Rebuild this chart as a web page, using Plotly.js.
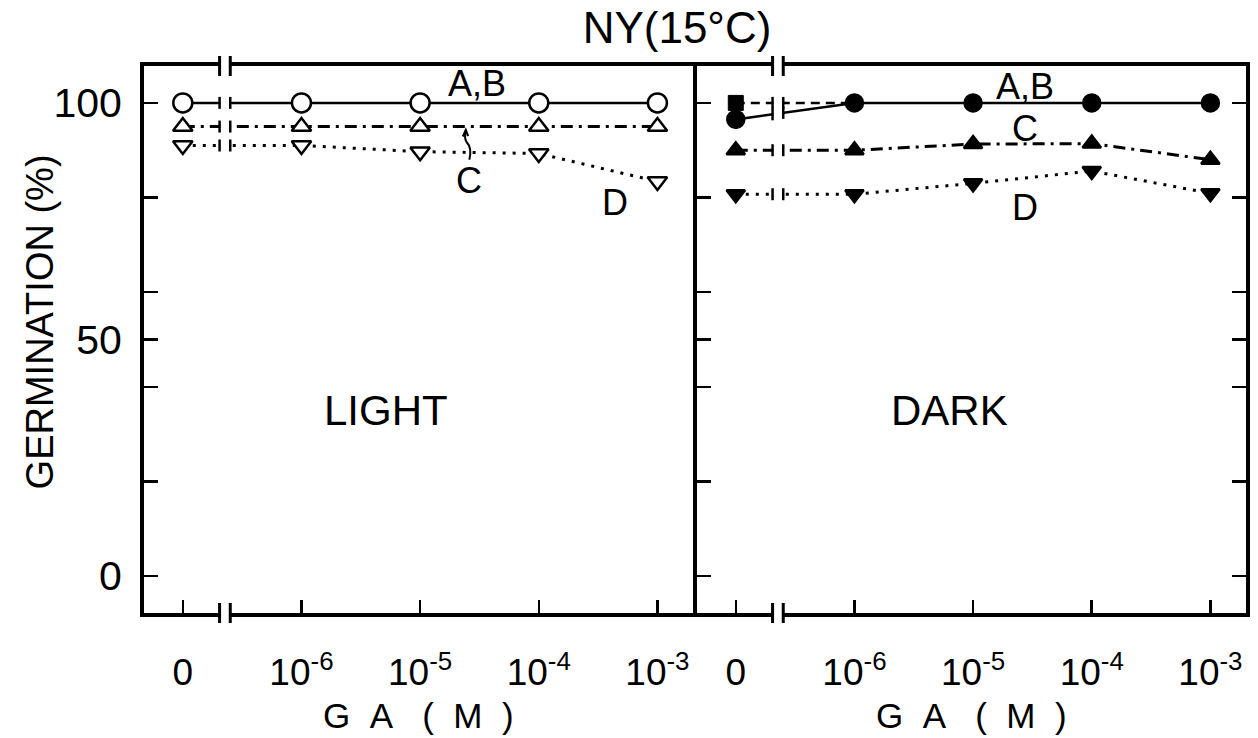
<!DOCTYPE html>
<html><head><meta charset="utf-8">
<script src="https://cdn.plot.ly/plotly-3.0.1.min.js"></script>
<style>html,body{margin:0;padding:0;background:#fff;} #chart{width:1258px;height:738px;}</style>
</head><body><div id="chart"></div>
<script>
// ---- data ----
const concentrations = ['0', '1e-6', '1e-5', '1e-4', '1e-3'];
const tickLabels = ['0', '10<sup>-6</sup>', '10<sup>-5</sup>', '10<sup>-4</sup>', '10<sup>-3</sup>'];
const yLabelVals = [0, 50, 100];
const yLabelText = ['0', '50', '100'];
const yMinorVals = [20, 40, 60, 80];
// LIGHT (open symbols)
const lightAB = [100, 100, 100, 100, 100];
const lightC = [95, 95, 95, 95, 95];
const lightD = [91, 91, 89.7, 89.3, 83.4];
// DARK (closed symbols)
const darkA = [96.5, 100, 100, 100, 100];
const darkB = [100, 100];
const darkC = [90, 90, 91.3, 91.4, 88];
const darkD = [80.7, 80.7, 83, 85.6, 80.9];

const xs = concentrations.map((c, i) => i);
const FONT = 'Liberation Sans, Arial, sans-serif';
const breakX = [0.31, 0.40];

function tr(y, xa, ya, symbol, fill, size, dash, lw, mode) {
  return {
    x: xs.slice(0, y.length), y: y, xaxis: xa, yaxis: ya, type: 'scatter', mode: mode || 'lines+markers',
    line: {color: 'black', width: lw, dash: dash},
    marker: {symbol: symbol, size: size, color: fill, opacity: 1, line: {color: 'black', width: 2.5}},
    hoverinfo: 'skip', showlegend: false, cliponaxis: false
  };
}

const traces = [
  tr(lightAB, 'x', 'y', 'circle', 'white', 19, 'solid', 2.5),
  tr(lightC, 'x', 'y', 'triangle-up', 'white', 17, '12px,6px,3px,6px', 3),
  tr(lightD, 'x', 'y', 'triangle-down', 'white', 17, '3px,7px', 3),
  tr(darkB, 'x2', 'y2', 'square', 'black', 15, '9px,6px', 2.5, 'lines'),
  {x: xs.slice(0, 1), y: darkB.slice(0, 1), xaxis: 'x2', yaxis: 'y2', type: 'scatter', mode: 'markers',
   marker: {symbol: 'square', size: 15, color: 'rgb(0,0,0)', line: {color: 'rgb(0,0,0)', width: 1}},
   hoverinfo: 'skip', showlegend: false, cliponaxis: false},
  tr(darkA, 'x2', 'y2', 'circle', 'black', 17, 'solid', 2.5),
  tr(darkC, 'x2', 'y2', 'triangle-up', 'black', 16, '12px,6px,3px,6px', 3),
  tr(darkD, 'x2', 'y2', 'triangle-down', 'black', 16, '3px,7px', 3)
];

// ---- axis-break decorations ----
const shapes = [];
function breakShapes(xref, yref, seriesList) {
  shapes.push({type: 'rect', xref: xref, yref: yref + ' domain', x0: breakX[0] + 0.006, x1: breakX[1] - 0.006,
    y0: -0.05, y1: 1.05, fillcolor: 'white', line: {width: 0}, layer: 'above'});
  breakX.forEach(bx => {
    [0, 1].forEach(d => shapes.push({type: 'line', xref: xref, yref: yref + ' domain', x0: bx, x1: bx,
      ysizemode: 'pixel', yanchor: d, y0: -10, y1: 10, line: {color: 'black', width: 3}, layer: 'above'}));
    seriesList.forEach(s => {
      const yb = s[0] + (s[1] - s[0]) * bx;
      shapes.push({type: 'line', xref: xref, yref: yref, x0: bx, x1: bx,
        ysizemode: 'pixel', yanchor: yb, y0: -6, y1: 6, line: {color: 'black', width: 2.5}, layer: 'above'});
    });
  });
}
breakShapes('x', 'y', [lightAB, lightC, lightD]);
breakShapes('x2', 'y2', [darkA, darkB, darkC, darkD]);

// curved pointer from label C to curve C (LIGHT panel)
shapes.push({type: 'path', xref: 'x', yref: 'y', layer: 'above',
  path: 'M 2.415,88.0 Q 2.44,90.5 2.39,91.8 Q 2.37,92.6 2.385,94.0',
  line: {color: 'black', width: 2}});
shapes.push({type: 'path', xref: 'x', yref: 'y', layer: 'above',
  path: 'M 2.36,92.9 L 2.385,94.3 L 2.405,93.0',
  line: {color: 'black', width: 2}});

const xCommon = {
  range: [-0.327, 4.30], tickmode: 'array', tickvals: xs, ticktext: tickLabels,
  ticks: 'inside', ticklen: 13, tickwidth: 2.5, tickcolor: 'black',
  showline: true, linewidth: 4, linecolor: 'black', mirror: true,
  showgrid: false, zeroline: false, ticklabelstandoff: 24,
  tickfont: {family: FONT, size: 37, color: 'black'}, fixedrange: true
};
const yCommon = {
  range: [-7.8, 107.8], tickmode: 'array', tickvals: yLabelVals, ticktext: yLabelText,
  ticks: 'inside', ticklen: 14, tickwidth: 2.5, tickcolor: 'black',
  minor: {tickmode: 'array', tickvals: yMinorVals, ticks: 'inside', ticklen: 14, tickwidth: 2.5, tickcolor: 'black', showgrid: false},
  showline: true, linewidth: 4, linecolor: 'black',
  showgrid: false, zeroline: false, ticklabelstandoff: 10,
  tickfont: {family: FONT, size: 41, color: 'black'}, fixedrange: true
};

const ann = (text, xref, yref, x, y, size, extra) => Object.assign({
  text: text, xref: xref, yref: yref, x: x, y: y, showarrow: false,
  font: {family: FONT, size: size, color: 'black'}, xanchor: 'center', yanchor: 'middle'
}, extra || {});

const xTitle = 'G&nbsp;&nbsp;A&nbsp;&nbsp;&nbsp;(&nbsp;&nbsp;M&nbsp;&nbsp;)';
const annotations = [
  ann('GERMINATION (%)', 'paper', 'paper', -0.094, 0.532, 38, {textangle: -90}),
  ann(xTitle, 'paper', 'paper', 0.249, -0.2267, 35, {yanchor: 'bottom'}),
  ann(xTitle, 'paper', 'paper', 0.751, -0.2267, 35, {yanchor: 'bottom'}),
  ann('LIGHT', 'x', 'y', 1.71, 35, 42),
  ann('DARK', 'x2', 'y2', 1.80, 35, 42),
  ann('A,B', 'x', 'y', 2.48, 104, 36),
  ann('C', 'x', 'y', 2.41, 83.5, 36),
  ann('D', 'x', 'y', 3.64, 79, 36),
  ann('A,B', 'x2', 'y2', 2.44, 103.4, 36),
  ann('C', 'x2', 'y2', 2.44, 94.6, 36),
  ann('D', 'x2', 'y2', 2.44, 77.8, 36)
];

const layout = {
  width: 1258, height: 738,
  margin: {l: 144, r: 12, t: 66, b: 125, pad: 0},
  paper_bgcolor: 'white', plot_bgcolor: 'white',
  title: {text: 'NY(15°C)', font: {family: FONT, size: 44, color: 'black'},
    xref: 'paper', x: 0.4837, xanchor: 'center', yref: 'container', y: 0.962, yanchor: 'middle'},
  xaxis: Object.assign({}, xCommon, {domain: [0, 0.4982], anchor: 'y'}),
  yaxis: Object.assign({}, yCommon, {domain: [0, 1], anchor: 'x', mirror: false}),
  xaxis2: Object.assign({}, xCommon, {domain: [0.5018, 1], anchor: 'y2'}),
  yaxis2: Object.assign({}, yCommon, {domain: [0, 1], anchor: 'x2', mirror: 'ticks', showticklabels: false}),
  shapes: shapes, annotations: annotations, showlegend: false
};

Plotly.newPlot('chart', traces, layout, {staticPlot: true, displayModeBar: false});
</script>
</body></html>
